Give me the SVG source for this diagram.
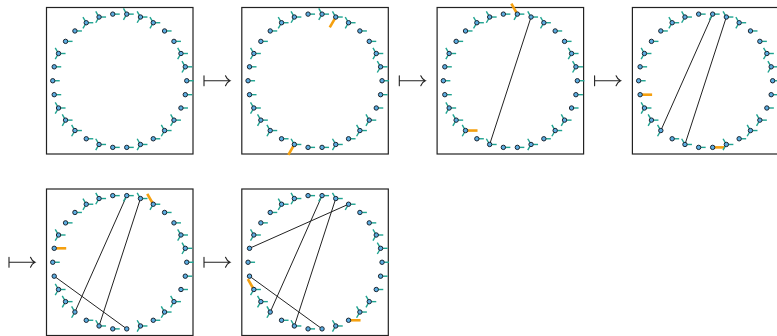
<svg xmlns="http://www.w3.org/2000/svg" xmlns:xlink="http://www.w3.org/1999/xlink" width="777" height="336" viewBox="0 0 777 336">
<style>
.box{fill:#fff;stroke:#222;stroke-width:1.2}
.pr{fill:none;stroke:#1fa390;stroke-width:1.4;stroke-linecap:butt}
.hl{fill:none;stroke:#f5a00f;stroke-width:2.6;stroke-linecap:butt}
.dot{fill:#5dade2;stroke:#1a2530;stroke-width:1}
.chord{stroke:#222;stroke-width:1;fill:none}
.arr{stroke:#222;stroke-width:1.1;fill:none;stroke-linecap:round}
</style>
<defs>
<path id="r" class="pr" d="M0,0H7"/>
<path id="u" class="pr" d="M0,0L-3.3,-5.7"/>
<path id="d" class="pr" d="M0,0L-3.3,5.7"/>
<path id="hr" class="hl" d="M0,0H12"/>
<path id="hu" class="hl" d="M0,0L-6,-10.4"/>
<path id="hd" class="hl" d="M0,0L-6,10.4"/>
<circle id="c" class="dot" r="2.2"/>
<g id="T"><use href="#r"/><use href="#u"/><use href="#d"/><use href="#c"/></g>
<g id="S"><use href="#r"/><use href="#c"/></g>
<path id="mt" class="arr" d="M0,-5V5M0,0H26M21.5,-5Q23,-1.2 26,0Q23,1.2 21.5,5"/>
</defs>

<g id="arrows">
<use href="#mt" x="204" y="80.75"/>
<use href="#mt" x="399.3" y="80.75"/>
<use href="#mt" x="594.6" y="80.75"/>
<use href="#mt" x="9" y="262.25"/>
<use href="#mt" x="204" y="262.25"/>
</g>

<!-- Panel 1 -->
<g id="panel1" transform="translate(119.75,80.75)">
<rect class="box" x="-73.25" y="-73.25" width="146.5" height="146.5"/>
<g id="p1-chords" class="chord"></g>
<g id="p1n0" transform="translate(67,0)"><use href="#S"/></g>
<g id="p1n1" transform="translate(65.54,-13.93)"><use href="#T"/></g>
<g id="p1n2" transform="translate(61.21,-27.25)"><use href="#T"/></g>
<g id="p1n3" transform="translate(54.2,-39.38)"><use href="#S"/></g>
<g id="p1n4" transform="translate(44.83,-49.79)"><use href="#S"/></g>
<g id="p1n5" transform="translate(33.5,-58.02)"><use href="#T"/></g>
<g id="p1n6" transform="translate(20.7,-63.72)"><use href="#T"/></g>
<g id="p1n7" transform="translate(7,-66.63)"><use href="#T"/></g>
<g id="p1n8" transform="translate(-7,-66.63)"><use href="#S"/></g>
<g id="p1n9" transform="translate(-20.7,-63.72)"><use href="#T"/></g>
<g id="p1n10" transform="translate(-33.5,-58.02)"><use href="#T"/></g>
<g id="p1n11" transform="translate(-44.83,-49.79)"><use href="#S"/></g>
<g id="p1n12" transform="translate(-54.2,-39.38)"><use href="#S"/></g>
<g id="p1n13" transform="translate(-61.21,-27.25)"><use href="#T"/></g>
<g id="p1n14" transform="translate(-65.54,-13.93)"><use href="#S"/></g>
<g id="p1n15" transform="translate(-67,0)"><use href="#S"/></g>
<g id="p1n16" transform="translate(-65.54,13.93)"><use href="#S"/></g>
<g id="p1n17" transform="translate(-61.21,27.25)"><use href="#T"/></g>
<g id="p1n18" transform="translate(-54.2,39.38)"><use href="#T"/></g>
<g id="p1n19" transform="translate(-44.83,49.79)"><use href="#T"/></g>
<g id="p1n20" transform="translate(-33.5,58.02)"><use href="#S"/></g>
<g id="p1n21" transform="translate(-20.7,63.72)"><use href="#T"/></g>
<g id="p1n22" transform="translate(-7,66.63)"><use href="#S"/></g>
<g id="p1n23" transform="translate(7,66.63)"><use href="#S"/></g>
<g id="p1n24" transform="translate(20.7,63.72)"><use href="#T"/></g>
<g id="p1n25" transform="translate(33.5,58.02)"><use href="#S"/></g>
<g id="p1n26" transform="translate(44.83,49.79)"><use href="#T"/></g>
<g id="p1n27" transform="translate(54.2,39.38)"><use href="#T"/></g>
<g id="p1n28" transform="translate(61.21,27.25)"><use href="#S"/></g>
<g id="p1n29" transform="translate(65.54,13.93)"><use href="#S"/></g>
</g>

<!-- Panel 2 -->
<g id="panel2" transform="translate(315.05,80.75)">
<rect class="box" x="-73.25" y="-73.25" width="146.5" height="146.5"/>
<g id="p2-chords" class="chord"></g>
<g id="p2n0" transform="translate(67,0)"><use href="#S"/></g>
<g id="p2n1" transform="translate(65.54,-13.93)"><use href="#T"/></g>
<g id="p2n2" transform="translate(61.21,-27.25)"><use href="#T"/></g>
<g id="p2n3" transform="translate(54.2,-39.38)"><use href="#S"/></g>
<g id="p2n4" transform="translate(44.83,-49.79)"><use href="#S"/></g>
<g id="p2n5" transform="translate(33.5,-58.02)"><use href="#T"/></g>
<g id="p2n6" transform="translate(20.7,-63.72)"><use href="#r"/><use href="#u"/><use href="#hd"/><use href="#c"/></g>
<g id="p2n7" transform="translate(7,-66.63)"><use href="#T"/></g>
<g id="p2n8" transform="translate(-7,-66.63)"><use href="#S"/></g>
<g id="p2n9" transform="translate(-20.7,-63.72)"><use href="#T"/></g>
<g id="p2n10" transform="translate(-33.5,-58.02)"><use href="#T"/></g>
<g id="p2n11" transform="translate(-44.83,-49.79)"><use href="#S"/></g>
<g id="p2n12" transform="translate(-54.2,-39.38)"><use href="#S"/></g>
<g id="p2n13" transform="translate(-61.21,-27.25)"><use href="#T"/></g>
<g id="p2n14" transform="translate(-65.54,-13.93)"><use href="#S"/></g>
<g id="p2n15" transform="translate(-67,0)"><use href="#S"/></g>
<g id="p2n16" transform="translate(-65.54,13.93)"><use href="#S"/></g>
<g id="p2n17" transform="translate(-61.21,27.25)"><use href="#T"/></g>
<g id="p2n18" transform="translate(-54.2,39.38)"><use href="#T"/></g>
<g id="p2n19" transform="translate(-44.83,49.79)"><use href="#T"/></g>
<g id="p2n20" transform="translate(-33.5,58.02)"><use href="#S"/></g>
<g id="p2n21" transform="translate(-20.7,63.72)"><use href="#r"/><use href="#u"/><use href="#hd"/><use href="#c"/></g>
<g id="p2n22" transform="translate(-7,66.63)"><use href="#S"/></g>
<g id="p2n23" transform="translate(7,66.63)"><use href="#S"/></g>
<g id="p2n24" transform="translate(20.7,63.72)"><use href="#T"/></g>
<g id="p2n25" transform="translate(33.5,58.02)"><use href="#S"/></g>
<g id="p2n26" transform="translate(44.83,49.79)"><use href="#T"/></g>
<g id="p2n27" transform="translate(54.2,39.38)"><use href="#T"/></g>
<g id="p2n28" transform="translate(61.21,27.25)"><use href="#S"/></g>
<g id="p2n29" transform="translate(65.54,13.93)"><use href="#S"/></g>
</g>

<!-- Panel 3 -->
<g id="panel3" transform="translate(510.35,80.75)">
<rect class="box" x="-73.25" y="-73.25" width="146.5" height="146.5"/>
<g id="p3-chords" class="chord">
<line x1="20.7" y1="-63.72" x2="-20.7" y2="63.72"/>
</g>
<g id="p3n0" transform="translate(67,0)"><use href="#S"/></g>
<g id="p3n1" transform="translate(65.54,-13.93)"><use href="#T"/></g>
<g id="p3n2" transform="translate(61.21,-27.25)"><use href="#T"/></g>
<g id="p3n3" transform="translate(54.2,-39.38)"><use href="#S"/></g>
<g id="p3n4" transform="translate(44.83,-49.79)"><use href="#S"/></g>
<g id="p3n5" transform="translate(33.5,-58.02)"><use href="#T"/></g>
<g id="p3n6" transform="translate(20.7,-63.72)"><use href="#r"/><use href="#u"/><use href="#c"/></g>
<g id="p3n7" transform="translate(7,-66.63)"><use href="#r"/><use href="#d"/><use href="#hu"/><use href="#c"/></g>
<g id="p3n8" transform="translate(-7,-66.63)"><use href="#S"/></g>
<g id="p3n9" transform="translate(-20.7,-63.72)"><use href="#T"/></g>
<g id="p3n10" transform="translate(-33.5,-58.02)"><use href="#T"/></g>
<g id="p3n11" transform="translate(-44.83,-49.79)"><use href="#S"/></g>
<g id="p3n12" transform="translate(-54.2,-39.38)"><use href="#S"/></g>
<g id="p3n13" transform="translate(-61.21,-27.25)"><use href="#T"/></g>
<g id="p3n14" transform="translate(-65.54,-13.93)"><use href="#S"/></g>
<g id="p3n15" transform="translate(-67,0)"><use href="#S"/></g>
<g id="p3n16" transform="translate(-65.54,13.93)"><use href="#S"/></g>
<g id="p3n17" transform="translate(-61.21,27.25)"><use href="#T"/></g>
<g id="p3n18" transform="translate(-54.2,39.38)"><use href="#T"/></g>
<g id="p3n19" transform="translate(-44.83,49.79)"><use href="#u"/><use href="#d"/><use href="#hr"/><use href="#c"/></g>
<g id="p3n20" transform="translate(-33.5,58.02)"><use href="#S"/></g>
<g id="p3n21" transform="translate(-20.7,63.72)"><use href="#r"/><use href="#u"/><use href="#c"/></g>
<g id="p3n22" transform="translate(-7,66.63)"><use href="#S"/></g>
<g id="p3n23" transform="translate(7,66.63)"><use href="#S"/></g>
<g id="p3n24" transform="translate(20.7,63.72)"><use href="#T"/></g>
<g id="p3n25" transform="translate(33.5,58.02)"><use href="#S"/></g>
<g id="p3n26" transform="translate(44.83,49.79)"><use href="#T"/></g>
<g id="p3n27" transform="translate(54.2,39.38)"><use href="#T"/></g>
<g id="p3n28" transform="translate(61.21,27.25)"><use href="#S"/></g>
<g id="p3n29" transform="translate(65.54,13.93)"><use href="#S"/></g>
</g>

<!-- Panel 4 -->
<g id="panel4" transform="translate(705.65,80.75)">
<rect class="box" x="-73.25" y="-73.25" width="146.5" height="146.5"/>
<g id="p4-chords" class="chord">
<line x1="20.7" y1="-63.72" x2="-20.7" y2="63.72"/>
<line x1="7" y1="-66.63" x2="-44.83" y2="49.79"/>
</g>
<g id="p4n0" transform="translate(67,0)"><use href="#S"/></g>
<g id="p4n1" transform="translate(65.54,-13.93)"><use href="#T"/></g>
<g id="p4n2" transform="translate(61.21,-27.25)"><use href="#T"/></g>
<g id="p4n3" transform="translate(54.2,-39.38)"><use href="#S"/></g>
<g id="p4n4" transform="translate(44.83,-49.79)"><use href="#S"/></g>
<g id="p4n5" transform="translate(33.5,-58.02)"><use href="#T"/></g>
<g id="p4n6" transform="translate(20.7,-63.72)"><use href="#r"/><use href="#u"/><use href="#c"/></g>
<g id="p4n7" transform="translate(7,-66.63)"><use href="#r"/><use href="#d"/><use href="#c"/></g>
<g id="p4n8" transform="translate(-7,-66.63)"><use href="#S"/></g>
<g id="p4n9" transform="translate(-20.7,-63.72)"><use href="#T"/></g>
<g id="p4n10" transform="translate(-33.5,-58.02)"><use href="#T"/></g>
<g id="p4n11" transform="translate(-44.83,-49.79)"><use href="#S"/></g>
<g id="p4n12" transform="translate(-54.2,-39.38)"><use href="#S"/></g>
<g id="p4n13" transform="translate(-61.21,-27.25)"><use href="#T"/></g>
<g id="p4n14" transform="translate(-65.54,-13.93)"><use href="#S"/></g>
<g id="p4n15" transform="translate(-67,0)"><use href="#S"/></g>
<g id="p4n16" transform="translate(-65.54,13.93)"><use href="#hr"/><use href="#c"/></g>
<g id="p4n17" transform="translate(-61.21,27.25)"><use href="#T"/></g>
<g id="p4n18" transform="translate(-54.2,39.38)"><use href="#T"/></g>
<g id="p4n19" transform="translate(-44.83,49.79)"><use href="#u"/><use href="#d"/><use href="#c"/></g>
<g id="p4n20" transform="translate(-33.5,58.02)"><use href="#S"/></g>
<g id="p4n21" transform="translate(-20.7,63.72)"><use href="#r"/><use href="#u"/><use href="#c"/></g>
<g id="p4n22" transform="translate(-7,66.63)"><use href="#S"/></g>
<g id="p4n23" transform="translate(7,66.63)"><use href="#hr"/><use href="#c"/></g>
<g id="p4n24" transform="translate(20.7,63.72)"><use href="#T"/></g>
<g id="p4n25" transform="translate(33.5,58.02)"><use href="#S"/></g>
<g id="p4n26" transform="translate(44.83,49.79)"><use href="#T"/></g>
<g id="p4n27" transform="translate(54.2,39.38)"><use href="#T"/></g>
<g id="p4n28" transform="translate(61.21,27.25)"><use href="#S"/></g>
<g id="p4n29" transform="translate(65.54,13.93)"><use href="#S"/></g>
</g>

<!-- Panel 5 -->
<g id="panel5" transform="translate(119.75,262.25)">
<rect class="box" x="-73.25" y="-73.25" width="146.5" height="146.5"/>
<g id="p5-chords" class="chord">
<line x1="20.7" y1="-63.72" x2="-20.7" y2="63.72"/>
<line x1="7" y1="-66.63" x2="-44.83" y2="49.79"/>
<line x1="-65.54" y1="13.93" x2="7" y2="66.63"/>
</g>
<g id="p5n0" transform="translate(67,0)"><use href="#S"/></g>
<g id="p5n1" transform="translate(65.54,-13.93)"><use href="#T"/></g>
<g id="p5n2" transform="translate(61.21,-27.25)"><use href="#T"/></g>
<g id="p5n3" transform="translate(54.2,-39.38)"><use href="#S"/></g>
<g id="p5n4" transform="translate(44.83,-49.79)"><use href="#S"/></g>
<g id="p5n5" transform="translate(33.5,-58.02)"><use href="#r"/><use href="#d"/><use href="#hu"/><use href="#c"/></g>
<g id="p5n6" transform="translate(20.7,-63.72)"><use href="#r"/><use href="#u"/><use href="#c"/></g>
<g id="p5n7" transform="translate(7,-66.63)"><use href="#r"/><use href="#d"/><use href="#c"/></g>
<g id="p5n8" transform="translate(-7,-66.63)"><use href="#S"/></g>
<g id="p5n9" transform="translate(-20.7,-63.72)"><use href="#T"/></g>
<g id="p5n10" transform="translate(-33.5,-58.02)"><use href="#T"/></g>
<g id="p5n11" transform="translate(-44.83,-49.79)"><use href="#S"/></g>
<g id="p5n12" transform="translate(-54.2,-39.38)"><use href="#S"/></g>
<g id="p5n13" transform="translate(-61.21,-27.25)"><use href="#T"/></g>
<g id="p5n14" transform="translate(-65.54,-13.93)"><use href="#hr"/><use href="#c"/></g>
<g id="p5n15" transform="translate(-67,0)"><use href="#S"/></g>
<g id="p5n16" transform="translate(-65.54,13.93)"><use href="#c"/></g>
<g id="p5n17" transform="translate(-61.21,27.25)"><use href="#T"/></g>
<g id="p5n18" transform="translate(-54.2,39.38)"><use href="#T"/></g>
<g id="p5n19" transform="translate(-44.83,49.79)"><use href="#u"/><use href="#d"/><use href="#c"/></g>
<g id="p5n20" transform="translate(-33.5,58.02)"><use href="#S"/></g>
<g id="p5n21" transform="translate(-20.7,63.72)"><use href="#r"/><use href="#u"/><use href="#c"/></g>
<g id="p5n22" transform="translate(-7,66.63)"><use href="#S"/></g>
<g id="p5n23" transform="translate(7,66.63)"><use href="#c"/></g>
<g id="p5n24" transform="translate(20.7,63.72)"><use href="#T"/></g>
<g id="p5n25" transform="translate(33.5,58.02)"><use href="#S"/></g>
<g id="p5n26" transform="translate(44.83,49.79)"><use href="#T"/></g>
<g id="p5n27" transform="translate(54.2,39.38)"><use href="#T"/></g>
<g id="p5n28" transform="translate(61.21,27.25)"><use href="#S"/></g>
<g id="p5n29" transform="translate(65.54,13.93)"><use href="#S"/></g>
</g>

<!-- Panel 6 -->
<g id="panel6" transform="translate(315.05,262.25)">
<rect class="box" x="-73.25" y="-73.25" width="146.5" height="146.5"/>
<g id="p6-chords" class="chord">
<line x1="20.7" y1="-63.72" x2="-20.7" y2="63.72"/>
<line x1="7" y1="-66.63" x2="-44.83" y2="49.79"/>
<line x1="-65.54" y1="13.93" x2="7" y2="66.63"/>
<line x1="-65.54" y1="-13.93" x2="33.5" y2="-58.02"/>
</g>
<g id="p6n0" transform="translate(67,0)"><use href="#S"/></g>
<g id="p6n1" transform="translate(65.54,-13.93)"><use href="#T"/></g>
<g id="p6n2" transform="translate(61.21,-27.25)"><use href="#T"/></g>
<g id="p6n3" transform="translate(54.2,-39.38)"><use href="#S"/></g>
<g id="p6n4" transform="translate(44.83,-49.79)"><use href="#S"/></g>
<g id="p6n5" transform="translate(33.5,-58.02)"><use href="#r"/><use href="#d"/><use href="#c"/></g>
<g id="p6n6" transform="translate(20.7,-63.72)"><use href="#r"/><use href="#u"/><use href="#c"/></g>
<g id="p6n7" transform="translate(7,-66.63)"><use href="#r"/><use href="#d"/><use href="#c"/></g>
<g id="p6n8" transform="translate(-7,-66.63)"><use href="#S"/></g>
<g id="p6n9" transform="translate(-20.7,-63.72)"><use href="#T"/></g>
<g id="p6n10" transform="translate(-33.5,-58.02)"><use href="#T"/></g>
<g id="p6n11" transform="translate(-44.83,-49.79)"><use href="#S"/></g>
<g id="p6n12" transform="translate(-54.2,-39.38)"><use href="#S"/></g>
<g id="p6n13" transform="translate(-61.21,-27.25)"><use href="#T"/></g>
<g id="p6n14" transform="translate(-65.54,-13.93)"><use href="#c"/></g>
<g id="p6n15" transform="translate(-67,0)"><use href="#S"/></g>
<g id="p6n16" transform="translate(-65.54,13.93)"><use href="#c"/></g>
<g id="p6n17" transform="translate(-61.21,27.25)"><use href="#r"/><use href="#d"/><use href="#hu"/><use href="#c"/></g>
<g id="p6n18" transform="translate(-54.2,39.38)"><use href="#T"/></g>
<g id="p6n19" transform="translate(-44.83,49.79)"><use href="#u"/><use href="#d"/><use href="#c"/></g>
<g id="p6n20" transform="translate(-33.5,58.02)"><use href="#S"/></g>
<g id="p6n21" transform="translate(-20.7,63.72)"><use href="#r"/><use href="#u"/><use href="#c"/></g>
<g id="p6n22" transform="translate(-7,66.63)"><use href="#S"/></g>
<g id="p6n23" transform="translate(7,66.63)"><use href="#c"/></g>
<g id="p6n24" transform="translate(20.7,63.72)"><use href="#T"/></g>
<g id="p6n25" transform="translate(33.5,58.02)"><use href="#hr"/><use href="#c"/></g>
<g id="p6n26" transform="translate(44.83,49.79)"><use href="#T"/></g>
<g id="p6n27" transform="translate(54.2,39.38)"><use href="#T"/></g>
<g id="p6n28" transform="translate(61.21,27.25)"><use href="#S"/></g>
<g id="p6n29" transform="translate(65.54,13.93)"><use href="#S"/></g>
</g>
</svg>
